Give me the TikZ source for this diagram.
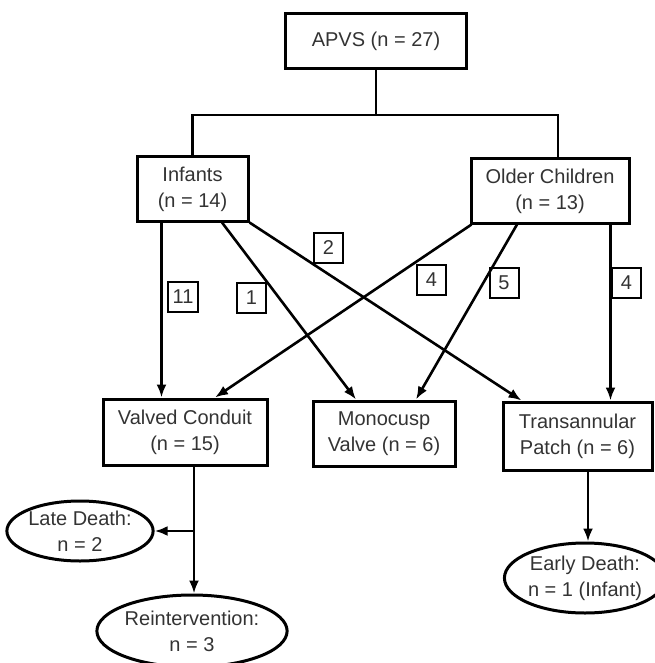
\documentclass[tikz,border=0pt]{standalone}
\usepackage{fontspec}
\setmainfont{Liberation Sans}
\usetikzlibrary{arrows.meta,shapes.geometric}
\begin{document}
\begin{tikzpicture}[x=1pt, y=-1pt,
    font=\fontsize{20}{26}\selectfont,
    box/.style={draw, line width=3pt, text=black!80, align=center, inner sep=0pt},
    numbox/.style={draw, line width=2pt, text=black!80, minimum width=29pt,
                   minimum height=30pt, inner sep=0pt},
    outcome/.style={draw, ellipse, line width=3pt, text=black!80, align=center,
                    inner sep=0pt},
    link/.style={line width=2.6pt},
    arrow/.style={link, -{Latex[length=13pt, width=10pt]}}]

% --- Cadre ---
\useasboundingbox (0,0) rectangle (654,663);

% --- Dimensions ---
\def\ySplit{115}

% --- Boîtes principales ---
\node[box, minimum width=181pt, minimum height=55pt] (apvs)    at (376,41.5)  {APVS (n = 27)};
\node[box, minimum width=111pt, minimum height=64pt] (infants) at (192.5,189) {Infants\\(n = 14)};
\node[box, minimum width=158pt, minimum height=64pt] (older)   at (550,191)   {Older Children\\(n = 13)};
\node[box, minimum width=164pt, minimum height=66pt] (valved)  at (185,432)   {Valved Conduit\\(n = 15)};
\node[box, minimum width=142pt, minimum height=65pt] (mono)    at (384,433.5) {Monocusp\\Valve (n = 6)};
\node[box, minimum width=149pt, minimum height=68pt] (trans)   at (577.5,436) {Transannular\\Patch (n = 6)};

% --- Issues ---
\node[outcome, minimum width=136pt, minimum height=60pt] (late)  at (80,531)  {Late Death:\\n = 2};
\node[outcome, minimum width=170pt, minimum height=72pt] (reint) at (192,631) {Reintervention:\\n = 3};
\node[outcome, minimum width=140pt, minimum height=70pt] (early) at (585,578) {Early Death:\\n = 1 (Infant)};

% --- Effectifs ---
\node[numbox, minimum width=30pt] (nVC)  at (183,297)   {11};
\node[numbox] (nIM)  at (251.5,298) {1};
\node[numbox] (nIT)  at (328.5,248) {2};
\node[numbox] (nOV)  at (431.5,280) {4};
\node[numbox] (nOM)  at (504,283)   {5};
\node[numbox] (nOT)  at (626.5,283) {4};

% --- Arbre du haut ---
\coordinate (split) at (apvs.south |- 0,\ySplit);
\draw[link] (apvs.south) -- (split);
\draw[link] (infants.north) |- (split) -| ([xshift=8pt]older.north);

% --- Flèches des nourrissons ---
\draw[arrow] ([xshift=26pt]infants.south west) -- ([xshift=26pt]infants.south west |- valved.north);
\draw[arrow] ([xshift=29.5pt]infants.south) -- ([xshift=-28pt]mono.north);
\draw[arrow] (infants.south east) -- ([xshift=20pt]trans.north west);

% --- Flèches des enfants plus âgés ---
\draw[arrow] ([xshift=2pt]older.south west) -- ([xshift=30pt]valved.north);
\draw[arrow] ([xshift=-33pt]older.south) -- ([xshift=32pt]mono.north);
\draw[arrow] ([xshift=-20pt]older.south east) -- ([xshift=-20pt]older.south east |- trans.north);

% --- Suivi ---
\coordinate (branch) at ([xshift=9pt]valved.south |- late.east);
\draw[arrow] ([xshift=9pt]valved.south) -- ([xshift=9pt]valved.south |- reint.north);
\draw[arrow] (branch) -- (late.east);
\draw[arrow] ([xshift=10.5pt]trans.south) -- ([xshift=10.5pt]trans.south |- early.north);

\end{tikzpicture}
\end{document}
